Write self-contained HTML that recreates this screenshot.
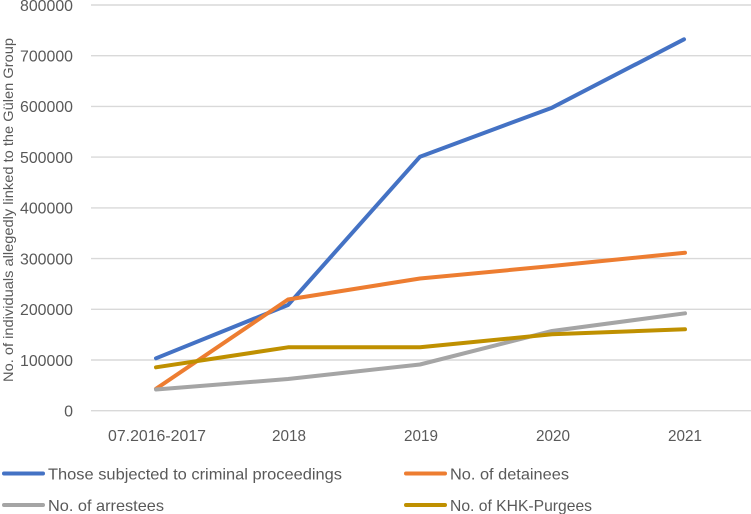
<!DOCTYPE html>
<html><head><meta charset="utf-8"><style>
html,body{margin:0;padding:0;background:#fff;}
svg{display:block;}
text{font-family:"Liberation Sans",sans-serif;fill:#595959;}
</style></head><body>
<svg width="751" height="514" viewBox="0 0 751 514" xmlns="http://www.w3.org/2000/svg">
<g stroke="#d9d9d9" stroke-width="1.4">
<line x1="91" y1="5" x2="751" y2="5"/>
<line x1="91" y1="55.7" x2="751" y2="55.7"/>
<line x1="91" y1="106.4" x2="751" y2="106.4"/>
<line x1="91" y1="157.1" x2="751" y2="157.1"/>
<line x1="91" y1="207.9" x2="751" y2="207.9"/>
<line x1="91" y1="258.6" x2="751" y2="258.6"/>
<line x1="91" y1="309.3" x2="751" y2="309.3"/>
<line x1="91" y1="360" x2="751" y2="360"/>
<line x1="91" y1="410.7" x2="751" y2="410.7"/>
</g>
<g font-size="16" text-anchor="end">
<text x="73" y="10.8" textLength="53" lengthAdjust="spacingAndGlyphs">800000</text>
<text x="73" y="61.5" textLength="53" lengthAdjust="spacingAndGlyphs">700000</text>
<text x="73" y="112.2" textLength="53" lengthAdjust="spacingAndGlyphs">600000</text>
<text x="73" y="162.9" textLength="53" lengthAdjust="spacingAndGlyphs">500000</text>
<text x="73" y="213.7" textLength="53" lengthAdjust="spacingAndGlyphs">400000</text>
<text x="73" y="264.4" textLength="53" lengthAdjust="spacingAndGlyphs">300000</text>
<text x="73" y="315.1" textLength="53" lengthAdjust="spacingAndGlyphs">200000</text>
<text x="73" y="365.8" textLength="53" lengthAdjust="spacingAndGlyphs">100000</text>
<text x="73" y="416.5">0</text>
</g>
<g font-size="16" text-anchor="middle">
<text x="157" y="440.8" textLength="98" lengthAdjust="spacingAndGlyphs">07.2016-2017</text>
<text x="289" y="440.8" textLength="34" lengthAdjust="spacingAndGlyphs">2018</text>
<text x="421" y="440.8" textLength="34" lengthAdjust="spacingAndGlyphs">2019</text>
<text x="553" y="440.8" textLength="34" lengthAdjust="spacingAndGlyphs">2020</text>
<text x="685" y="440.8" textLength="34" lengthAdjust="spacingAndGlyphs">2021</text>
</g>
<text transform="translate(13,210) rotate(-90)" font-size="14" text-anchor="middle" textLength="344" lengthAdjust="spacingAndGlyphs">No. of individuals allegedly linked to the Gülen Group</text>
<g fill="none" stroke-width="4" stroke-linecap="round" stroke-linejoin="round">
<polyline stroke="#4472c4" points="156,358.3 288,305 420,156.7 552,107.7 684,39.3"/>
<polyline stroke="#ed7d31" points="156,388.8 288,299.5 420,278.5 552,266 685,252.7"/>
<polyline stroke="#a5a5a5" points="156,389.5 288,379 420,364.5 552,331 685,313.3"/>
<polyline stroke="#bf9000" points="156,367.3 288,347.3 420,347.3 552,334.3 685,329.3"/>
</g>
<g stroke-width="4" stroke-linecap="round">
<line x1="4" y1="473.5" x2="43" y2="473.5" stroke="#4472c4"/>
<line x1="406" y1="473.5" x2="445" y2="473.5" stroke="#ed7d31"/>
<line x1="4" y1="505" x2="43" y2="505" stroke="#a5a5a5"/>
<line x1="406" y1="505" x2="445" y2="505" stroke="#bf9000"/>
</g>
<g font-size="16">
<text x="48" y="479.3" textLength="294" lengthAdjust="spacingAndGlyphs">Those subjected to criminal proceedings</text>
<text x="450" y="479.3" textLength="119" lengthAdjust="spacingAndGlyphs">No. of detainees</text>
<text x="48" y="510.8" textLength="116" lengthAdjust="spacingAndGlyphs">No. of arrestees</text>
<text x="450" y="510.8" textLength="142" lengthAdjust="spacingAndGlyphs">No. of KHK-Purgees</text>
</g>
</svg>
</body></html>
